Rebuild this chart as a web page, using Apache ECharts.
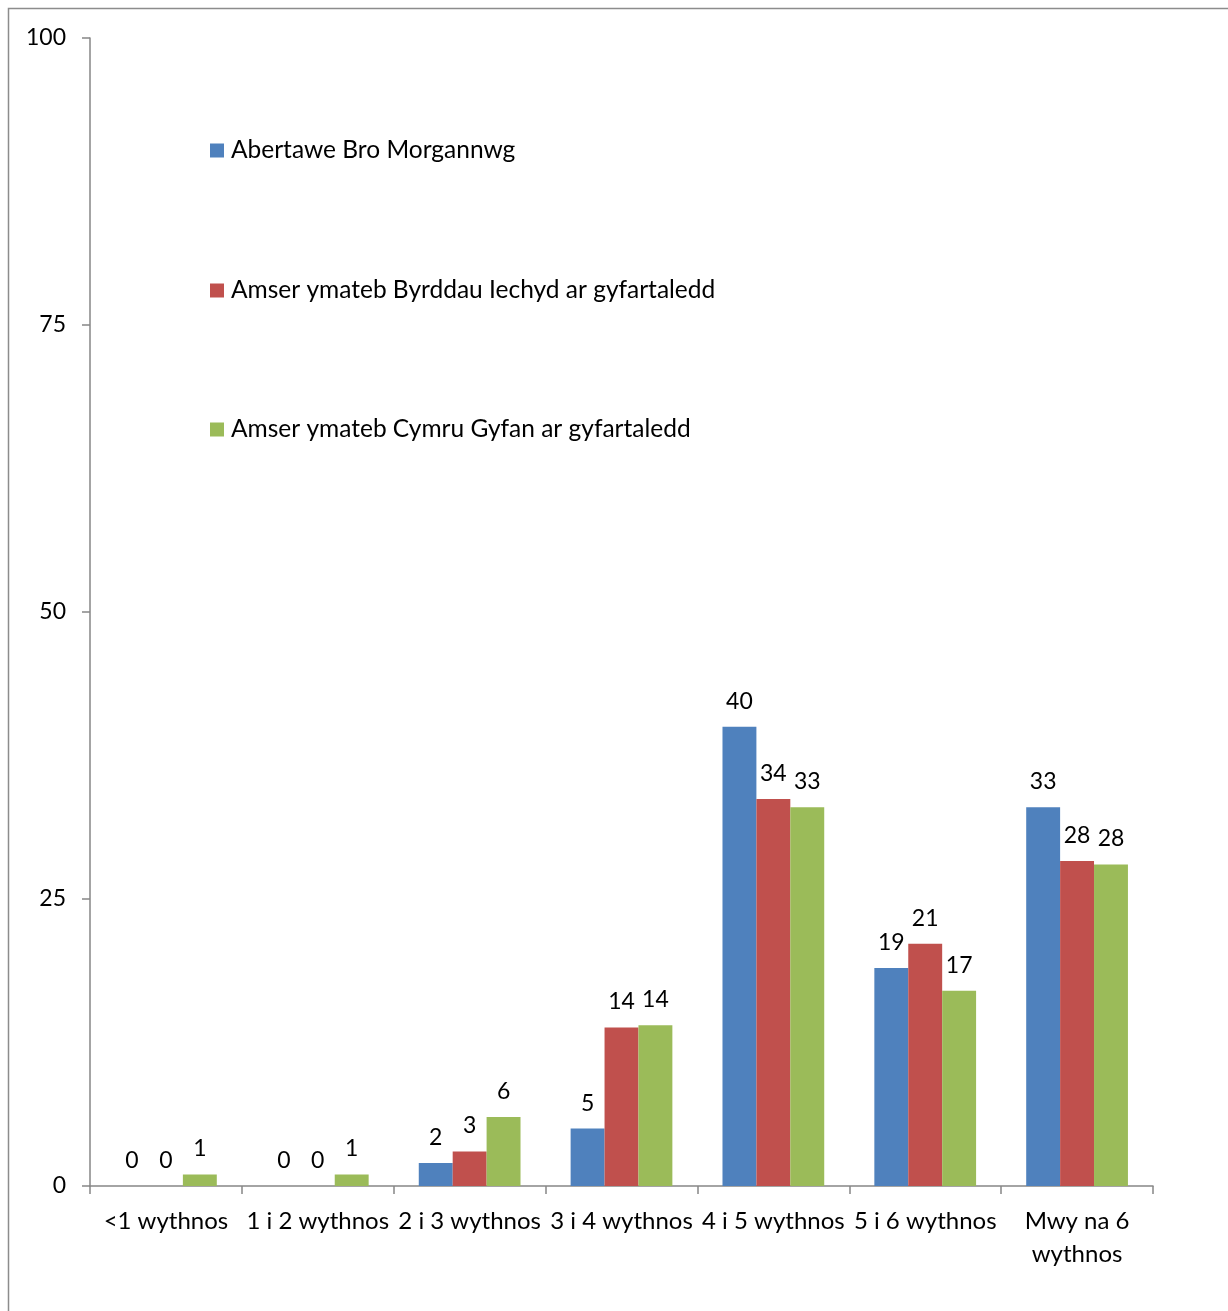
<!DOCTYPE html>
<html>
<head>
<meta charset="utf-8">
<script src="https://cdn.jsdelivr.net/npm/echarts@6/dist/echarts.min.js"></script>
<style>
  html, body { margin: 0; padding: 0; background: #fff; }
  #chart { width: 1228px; height: 1311px; }
</style>
</head>
<body>
<div id="chart"></div>
<script>
// Response-time bands (weeks)
const categories = ['<1 wythnos', '1 i 2 wythnos', '2 i 3 wythnos', '3 i 4 wythnos', '4 i 5 wythnos', '5 i 6 wythnos', 'Mwy na 6\nwythnos'];

// Percentages per band
const abmValues = [0, 0, 2.0, 5.0, 40.0, 19.0, 33.0];
const boardsAvgValues = [0, 0, 3.0, 13.8, 33.7, 21.1, 28.3];
const walesAvgValues = [1.0, 1.0, 6.0, 14.0, 33.0, 17.0, 28.0];

const seriesNames = [
  'Abertawe Bro Morgannwg',
  'Amser ymateb Byrddau Iechyd ar gyfartaledd',
  'Amser ymateb Cymru Gyfan ar gyfartaledd'
];
const seriesColors = ['#4F81BD', '#C0504D', '#9BBB59'];

const yTicks = [0, 25, 50, 75, 100];

const FONT = 'Lato';
const axisGray = '#868686';

const chart = echarts.init(document.getElementById('chart'));

function barSeries(name, data, color) {
  return {
    name: name,
    type: 'bar',
    data: data,
    barGap: '0%',
    barCategoryGap: '33%',
    itemStyle: { color: color },
    label: {
      show: true,
      position: 'top',
      distance: 14,
      color: '#000',
      fontFamily: FONT,
      fontSize: 23,
      formatter: p => Math.round(p.value)
    }
  };
}

function legendAt(top, name) {
  return {
    left: 210,
    top: top,
    orient: 'vertical',
    data: [name],
    icon: 'rect',
    itemWidth: 14,
    itemHeight: 14,
    itemGap: 0,
    selectedMode: false,
    textStyle: { fontFamily: FONT, fontSize: 24.5, color: '#000', padding: [0, 0, 0, 2] },
    padding: 0
  };
}

chart.setOption({
  animation: false,
  backgroundColor: '#fff',
  graphic: [{
    type: 'rect',
    shape: { x: 8.5, y: 8.5, width: 1400, height: 1500 },
    style: { fill: 'none', stroke: '#8c8c8c', lineWidth: 1.5 },
    silent: true
  }],
  legend: [
    legendAt(138, seriesNames[0]),
    legendAt(278, seriesNames[1]),
    legendAt(417, seriesNames[2])
  ],
  grid: { left: 90, right: 75, top: 38, bottom: 125, containLabel: false },
  xAxis: {
    type: 'category',
    data: categories,
    axisLine: { lineStyle: { color: axisGray, width: 1.5 } },
    axisTick: { show: true, length: 8, lineStyle: { color: axisGray, width: 1.5 } },
    axisLabel: {
      interval: 0,
      margin: 19,
      color: '#000',
      fontFamily: FONT,
      fontSize: 24,
      lineHeight: 33
    }
  },
  yAxis: {
    type: 'value',
    min: 0,
    max: 100,
    interval: 25,
    axisLine: { show: true, lineStyle: { color: axisGray, width: 1.5 } },
    axisTick: { show: true, length: 8, lineStyle: { color: axisGray, width: 1.5 } },
    splitLine: { show: false },
    axisLabel: {
      margin: 24,
      color: '#000',
      fontFamily: FONT,
      fontSize: 23,
      formatter: v => (yTicks.indexOf(v) >= 0 ? String(v) : '')
    }
  },
  series: [
    barSeries(seriesNames[0], abmValues, seriesColors[0]),
    barSeries(seriesNames[1], boardsAvgValues, seriesColors[1]),
    barSeries(seriesNames[2], walesAvgValues, seriesColors[2])
  ]
});
</script>
</body>
</html>
